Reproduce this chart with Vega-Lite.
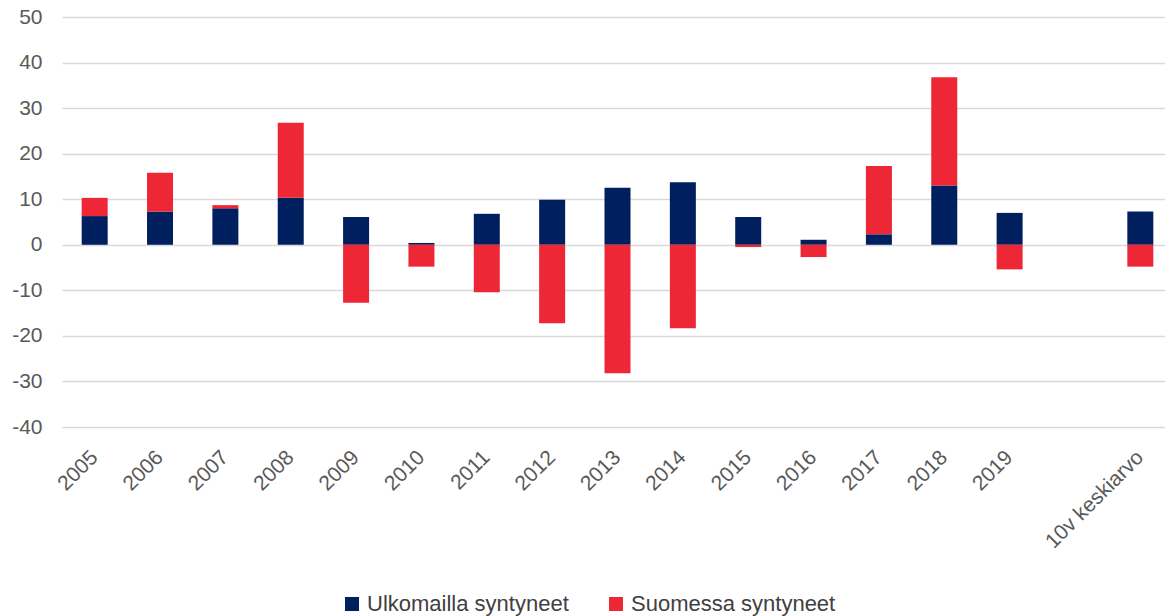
{
  "$schema": "https://vega.github.io/schema/vega-lite/v6.json",
  "width": 1103,
  "height": 410,
  "autosize": {"type": "none"},
  "padding": {"left": 62, "top": 17, "right": 0, "bottom": 189},
  "background": "white",
  "config": {
    "view": {"stroke": null},
    "font": "Liberation Sans"
  },
  "data": {
    "values": [
      {"year": "2005", "series": "Ulkomailla syntyneet", "value": 6.3},
      {"year": "2005", "series": "Suomessa syntyneet", "value": 4.0},
      {"year": "2006", "series": "Ulkomailla syntyneet", "value": 7.3},
      {"year": "2006", "series": "Suomessa syntyneet", "value": 8.5},
      {"year": "2007", "series": "Ulkomailla syntyneet", "value": 8.0},
      {"year": "2007", "series": "Suomessa syntyneet", "value": 0.7},
      {"year": "2008", "series": "Ulkomailla syntyneet", "value": 10.3},
      {"year": "2008", "series": "Suomessa syntyneet", "value": 16.5},
      {"year": "2009", "series": "Ulkomailla syntyneet", "value": 6.1},
      {"year": "2009", "series": "Suomessa syntyneet", "value": -12.7},
      {"year": "2010", "series": "Ulkomailla syntyneet", "value": 0.4},
      {"year": "2010", "series": "Suomessa syntyneet", "value": -4.8},
      {"year": "2011", "series": "Ulkomailla syntyneet", "value": 6.8},
      {"year": "2011", "series": "Suomessa syntyneet", "value": -10.4},
      {"year": "2012", "series": "Ulkomailla syntyneet", "value": 9.9},
      {"year": "2012", "series": "Suomessa syntyneet", "value": -17.2},
      {"year": "2013", "series": "Ulkomailla syntyneet", "value": 12.5},
      {"year": "2013", "series": "Suomessa syntyneet", "value": -28.2},
      {"year": "2014", "series": "Ulkomailla syntyneet", "value": 13.7},
      {"year": "2014", "series": "Suomessa syntyneet", "value": -18.3},
      {"year": "2015", "series": "Ulkomailla syntyneet", "value": 6.1},
      {"year": "2015", "series": "Suomessa syntyneet", "value": -0.5},
      {"year": "2016", "series": "Ulkomailla syntyneet", "value": 1.1},
      {"year": "2016", "series": "Suomessa syntyneet", "value": -2.7},
      {"year": "2017", "series": "Ulkomailla syntyneet", "value": 2.3},
      {"year": "2017", "series": "Suomessa syntyneet", "value": 15.0},
      {"year": "2018", "series": "Ulkomailla syntyneet", "value": 13.0},
      {"year": "2018", "series": "Suomessa syntyneet", "value": 23.8},
      {"year": "2019", "series": "Ulkomailla syntyneet", "value": 7.0},
      {"year": "2019", "series": "Suomessa syntyneet", "value": -5.4},
      {"year": "10v keskiarvo", "series": "Ulkomailla syntyneet", "value": 7.3},
      {"year": "10v keskiarvo", "series": "Suomessa syntyneet", "value": -4.8}
    ]
  },
  "transform": [
    {"calculate": "datum.series === 'Ulkomailla syntyneet' ? 0 : 1", "as": "ord"}
  ],
  "mark": {"type": "bar", "width": 26},
  "encoding": {
    "x": {
      "field": "year",
      "type": "nominal",
      "sort": null,
      "scale": {
        "domain": ["2005", "2006", "2007", "2008", "2009", "2010", "2011", "2012", "2013", "2014", "2015", "2016", "2017", "2018", "2019", " ", "10v keskiarvo"],
        "range": [0, 1111],
        "paddingInner": 0,
        "paddingOuter": 0
      },
      "axis": {
        "title": null,
        "domain": false,
        "ticks": false,
        "grid": false,
        "labelAngle": -45,
        "labelAlign": "right",
        "labelBaseline": "middle",
        "labelFontSize": 21,
        "labelColor": "#595959",
        "labelPadding": 27
      }
    },
    "y": {
      "field": "value",
      "type": "quantitative",
      "stack": "zero",
      "scale": {"domain": [-40, 50], "nice": false},
      "axis": {
        "title": null,
        "domain": false,
        "ticks": false,
        "values": [-40, -30, -20, -10, 0, 10, 20, 30, 40, 50],
        "labelExpr": "datum.value + ''",
        "gridColor": "#d9d9d9",
        "gridWidth": 1.5,
        "labelFontSize": 21,
        "labelColor": "#595959",
        "labelPadding": 20
      }
    },
    "color": {
      "field": "series",
      "type": "nominal",
      "scale": {
        "domain": ["Ulkomailla syntyneet", "Suomessa syntyneet"],
        "range": ["#001f5f", "#ee2737"]
      },
      "legend": {
        "title": null,
        "orient": "none",
        "direction": "horizontal",
        "legendX": 279,
        "legendY": 576,
        "symbolType": "square",
        "symbolSize": 196,
        "symbolStrokeWidth": 0,
        "labelFontSize": 22,
        "labelLimit": 0,
        "labelColor": "#404040",
        "labelOffset": 4,
        "columnPadding": 36
      }
    },
    "order": {"field": "ord", "type": "quantitative"}
  }
}
